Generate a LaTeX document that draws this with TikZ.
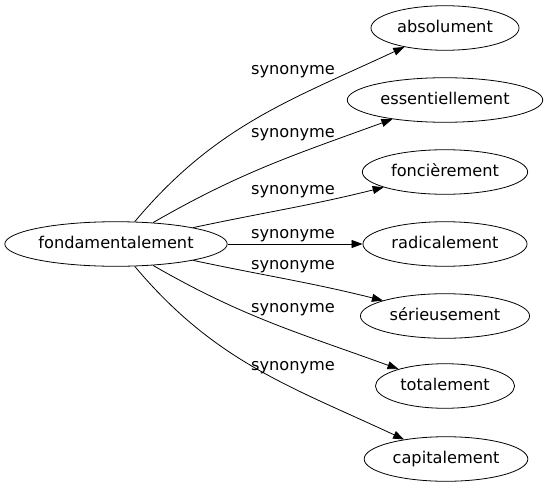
\documentclass[tikz,border=0pt]{standalone}
\usepackage{fontspec}
\setmainfont{DejaVu Sans}
\usetikzlibrary{shapes.geometric, arrows.meta}

\begin{document}
\begin{tikzpicture}[
		x=1pt, y=1pt,
		every node/.style={
				font=\fontsize{16.2}{19}\selectfont,
				text height=12pt, % Height above the baseline
				text depth=3.5pt  % Depth below the baseline
			},
		term/.style={draw, ellipse, line width=0.8pt, inner xsep=4.5pt, inner ysep=8pt},
		syn/.style={-{Triangle[length=11pt, width=8pt]}, line width=0.8pt},
		lbl/.style={inner sep=1pt}
	]
	\useasboundingbox (0,0) rectangle (545,491);

	\node[term, inner xsep=1pt] (root) at (116, 247) {fondamentalement};

	\node[term] (abs) at (445, 463) {absolument};
	\node[term] (ess) at (445, 391) {essentiellement};
	\node[term] (fon) at (445, 319) {foncièrement};
	\node[term] (rad) at (445, 247) {radicalement};
	\node[term] (ser) at (445, 175) {sérieusement};
	\node[term] (tot) at (445, 105) {totalement};
	\node[term] (cap) at (446, 32) {capitalement};

	% labels
	\node[lbl] (l1) at (293, 421) {synonyme};
	\node[lbl] (l2) at (293, 358) {synonyme};
	\node[lbl] (l3) at (293, 301) {synonyme};
	\node[lbl] (l4) at (293, 257) {synonyme};
	\node[lbl] (l5) at (293, 226) {synonyme};
	\node[lbl] (l6) at (293, 183) {synonyme};
	\node[lbl] (l7) at (293, 125) {synonyme};

	\draw[syn] (root) to[out=50, in=205] (abs);
	\draw[syn] (root) to[out=30, in=200] (ess);
	\draw[syn] (root) to[out=12, in=194] (fon);
	\draw[syn] (root) -- (rad);
	\draw[syn] (root) to[out=-12, in=166] (ser);
	\draw[syn] (root) to[out=-30, in=160] (tot);
	\draw[syn] (root) to[out=-50, in=155] (cap);
\end{tikzpicture}
\end{document}
